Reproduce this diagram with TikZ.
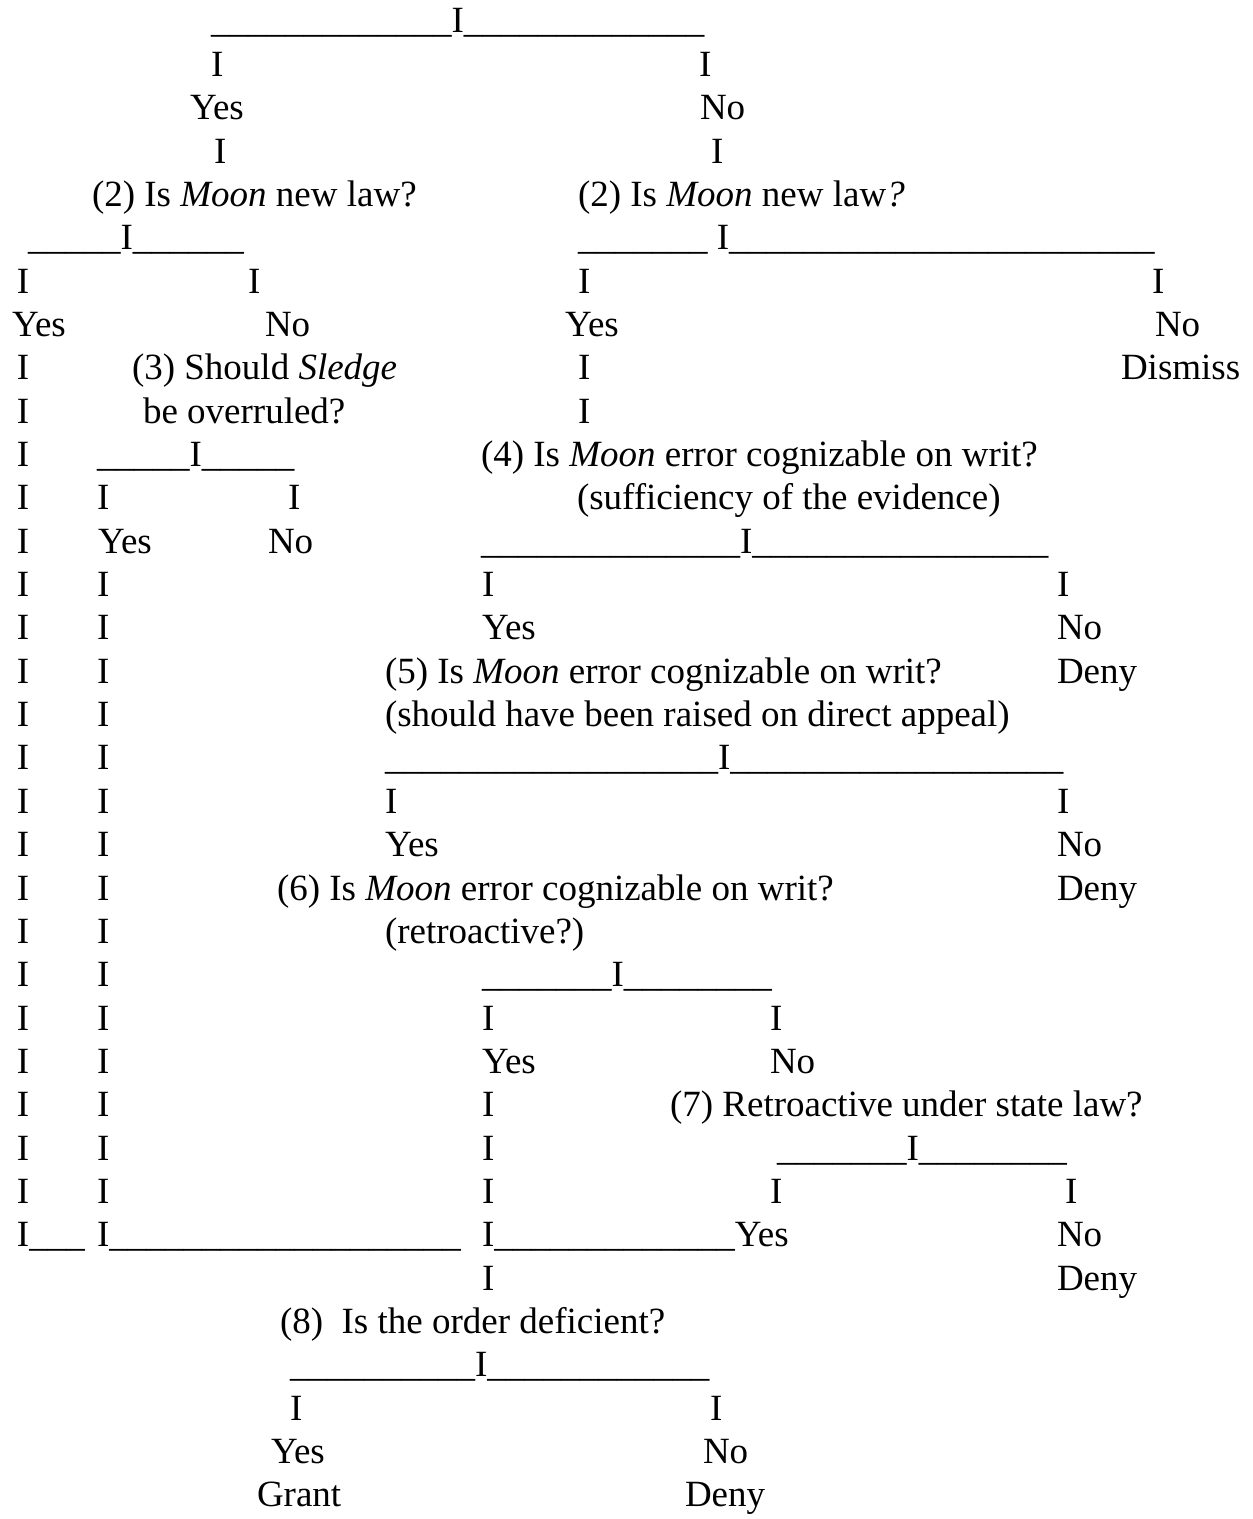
\documentclass[tikz,border=0pt]{standalone}
\usepackage{fontspec}
\setmainfont{Liberation Serif}
\ExplSyntaxOn
\cs_new:Npn \us #1 {\prg_replicate:nn{#1}{\textunderscore}}
\ExplSyntaxOff
\tikzset{txt/.style={anchor=base west, inner sep=0pt, outer sep=0pt, font=\fontsize{18.5}{22}\selectfont}}
\newcommand\tx[4]{\node[txt] (#1) at (#2,{33+(#3-1)*43.35}) {#4};}
\begin{document}
\begin{tikzpicture}[x=0.5pt,y=-0.5pt]
\useasboundingbox[fill=white] (0,0) rectangle (1252,1519);
% row 1-4
\tx{r1a}{211}{1}{\us{13}I\us{13}}
\tx{r2a}{211}{2}{I} \tx{r2b}{699}{2}{I}
\tx{r3a}{190}{3}{Yes} \tx{r3b}{700}{3}{No}
\tx{r4a}{214}{4}{I} \tx{r4b}{711}{4}{I}
% row 5-10
\tx{r5a}{92}{5}{(2) Is \textit{Moon} new law?}
\tx{r5b}{578}{5}{(2) Is \textit{Moon} new law\textit{?}}
\tx{r6a}{28}{6}{\us{5}I\us{6}}
\tx{r6b}{578}{6}{\us{7} I\us{23}}
\tx{r7b}{248}{7}{I} \tx{r7c}{578}{7}{I} \tx{r7d}{1152}{7}{I}
\tx{r8a}{12}{8}{Yes} \tx{r8b}{265}{8}{No} \tx{r8c}{565}{8}{Yes} \tx{r8d}{1155}{8}{No}
\tx{r9b}{132}{9}{(3) Should \textit{Sledge}} \tx{r9c}{578}{9}{I} \tx{r9d}{1121}{9}{Dismiss}
\tx{r10b}{143}{10}{be overruled?} \tx{r10c}{578}{10}{I}
% left columns
\foreach \r in {7,9,10,11,12,13,14,15,16,17,18,19,20,21,22,23,24,25,26,27,28} {\tx{ca\r}{17}{\r}{I}}
\tx{r12b}{97}{12}{I}
\tx{r13b}{98}{13}{Yes}
\foreach \r in {14,15,16,17,18,19,20,21,22,23,24,25,26,27,28} {\tx{cb\r}{97}{\r}{I}}
% row 11-13
\tx{r11b}{97}{11}{\us{5}I\us{5}}
\tx{r11c}{481}{11}{(4) Is \textit{Moon} error cognizable on writ?}
\tx{r12c}{288}{12}{I}
\tx{r12d}{577}{12}{(sufficiency of the evidence)}
\tx{r13c}{268}{13}{No}
\tx{r13d}{481}{13}{\us{14}I\us{16}}
% row 14-22
\tx{r14c}{482}{14}{I} \tx{r14d}{1057}{14}{I}
\tx{r15c}{482}{15}{Yes} \tx{r15d}{1057}{15}{No}
\tx{r16c}{385}{16}{(5) Is \textit{Moon} error cognizable on writ?} \tx{r16d}{1057}{16}{Deny}
\tx{r17c}{385}{17}{(should have been raised on direct appeal)}
\tx{r18c}{385}{18}{\us{18}I\us{18}}
\tx{r19c}{385}{19}{I} \tx{r19d}{1057}{19}{I}
\tx{r20c}{385}{20}{Yes} \tx{r20d}{1057}{20}{No}
\tx{r21c}{277}{21}{(6) Is \textit{Moon} error cognizable on writ?} \tx{r21d}{1057}{21}{Deny}
\tx{r22c}{385}{22}{(retroactive?)}
% row 23-30
\tx{r23c}{482}{23}{\us{7}I\us{8}}
\tx{r24c}{482}{24}{I} \tx{r24d}{770}{24}{I}
\tx{r25c}{482}{25}{Yes} \tx{r25d}{770}{25}{No}
\tx{r26c}{482}{26}{I} \tx{r26d}{670}{26}{(7) Retroactive under state law?}
\tx{r27c}{482}{27}{I} \tx{r27d}{777}{27}{\us{7}I\us{8}}
\tx{r28c}{482}{28}{I} \tx{r28d}{770}{28}{I} \tx{r28e}{1065}{28}{I}
\tx{r29a}{17}{29}{I\us{3}}
\tx{r29b}{97}{29}{I\us{19}}
\tx{r29c}{482}{29}{I\us{13}Yes}
\tx{r29d}{1057}{29}{No}
\tx{r30c}{482}{30}{I} \tx{r30d}{1057}{30}{Deny}
% row 31-35
\tx{r31}{280}{31}{(8)\ \ Is the order deficient?}
\tx{r32}{290}{32}{\us{10}I\us{12}}
\tx{r33a}{290}{33}{I} \tx{r33b}{710}{33}{I}
\tx{r34a}{271}{34}{Yes} \tx{r34b}{703}{34}{No}
\tx{r35a}{257}{35}{Grant} \tx{r35b}{685}{35}{Deny}
\end{tikzpicture}
\end{document}
